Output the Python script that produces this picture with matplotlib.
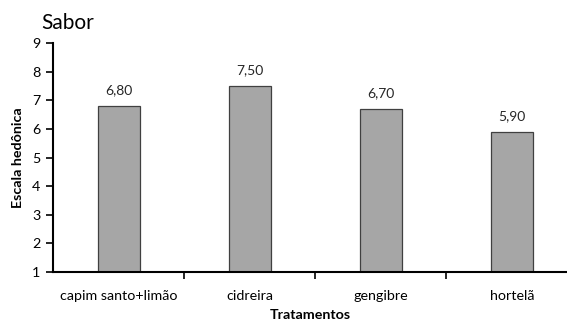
import matplotlib.pyplot as plt

categorias = ["capim santo+limão", "cidreira", "gengibre", "hortelã"]
valores = [6.80, 7.50, 6.70, 5.90]
rotulos = ["6,80", "7,50", "6,70", "5,90"]

plt.rcParams['font.family'] = ['Lato', 'DejaVu Sans']

fig = plt.figure(figsize=(5.67, 3.22), dpi=100)
ax = fig.add_axes([0.0935, 0.155, 0.9065, 0.711])

x = list(range(len(categorias)))
ax.bar(x, [v - 1 for v in valores], bottom=1, width=0.32,
       color='#a6a6a6', edgecolor='#404040', linewidth=0.9)

for xi, v, r in zip(x, valores, rotulos):
    ax.annotate(r, (xi, v), xytext=(0, 7), textcoords='offset points',
                ha='center', va='bottom', fontsize=10, color='#262626')

ax.set_ylim(1, 9)
ax.set_yticks(range(1, 10))
ax.set_xlim(-0.5, 3.42)

# tick marks between categories, labels centered on the bars
ax.set_xticks([0.5, 1.5, 2.5])
ax.set_xticklabels([])
ax.set_xticks(x, minor=True)
ax.set_xticklabels(categorias, minor=True, fontsize=10.3)
ax.tick_params(axis='x', which='minor', length=0, pad=13)
ax.tick_params(axis='x', which='major', direction='out', length=5, width=1.2)
ax.tick_params(axis='y', direction='out', length=5, width=1.2, labelsize=10.3, pad=4)

for s in ['top', 'right']:
    ax.spines[s].set_visible(False)
for s in ['left', 'bottom']:
    ax.spines[s].set_linewidth(1.5)

ax.set_ylabel('Escala hedônica', fontweight='bold', fontsize=10.3, labelpad=6)
ax.set_xlabel('Tratamentos', fontweight='bold', fontsize=10.3, labelpad=5)
fig.text(0.072, 0.93, 'Sabor', fontsize=15, va='center', ha='left')

fig.savefig('out.png', dpi=100)
